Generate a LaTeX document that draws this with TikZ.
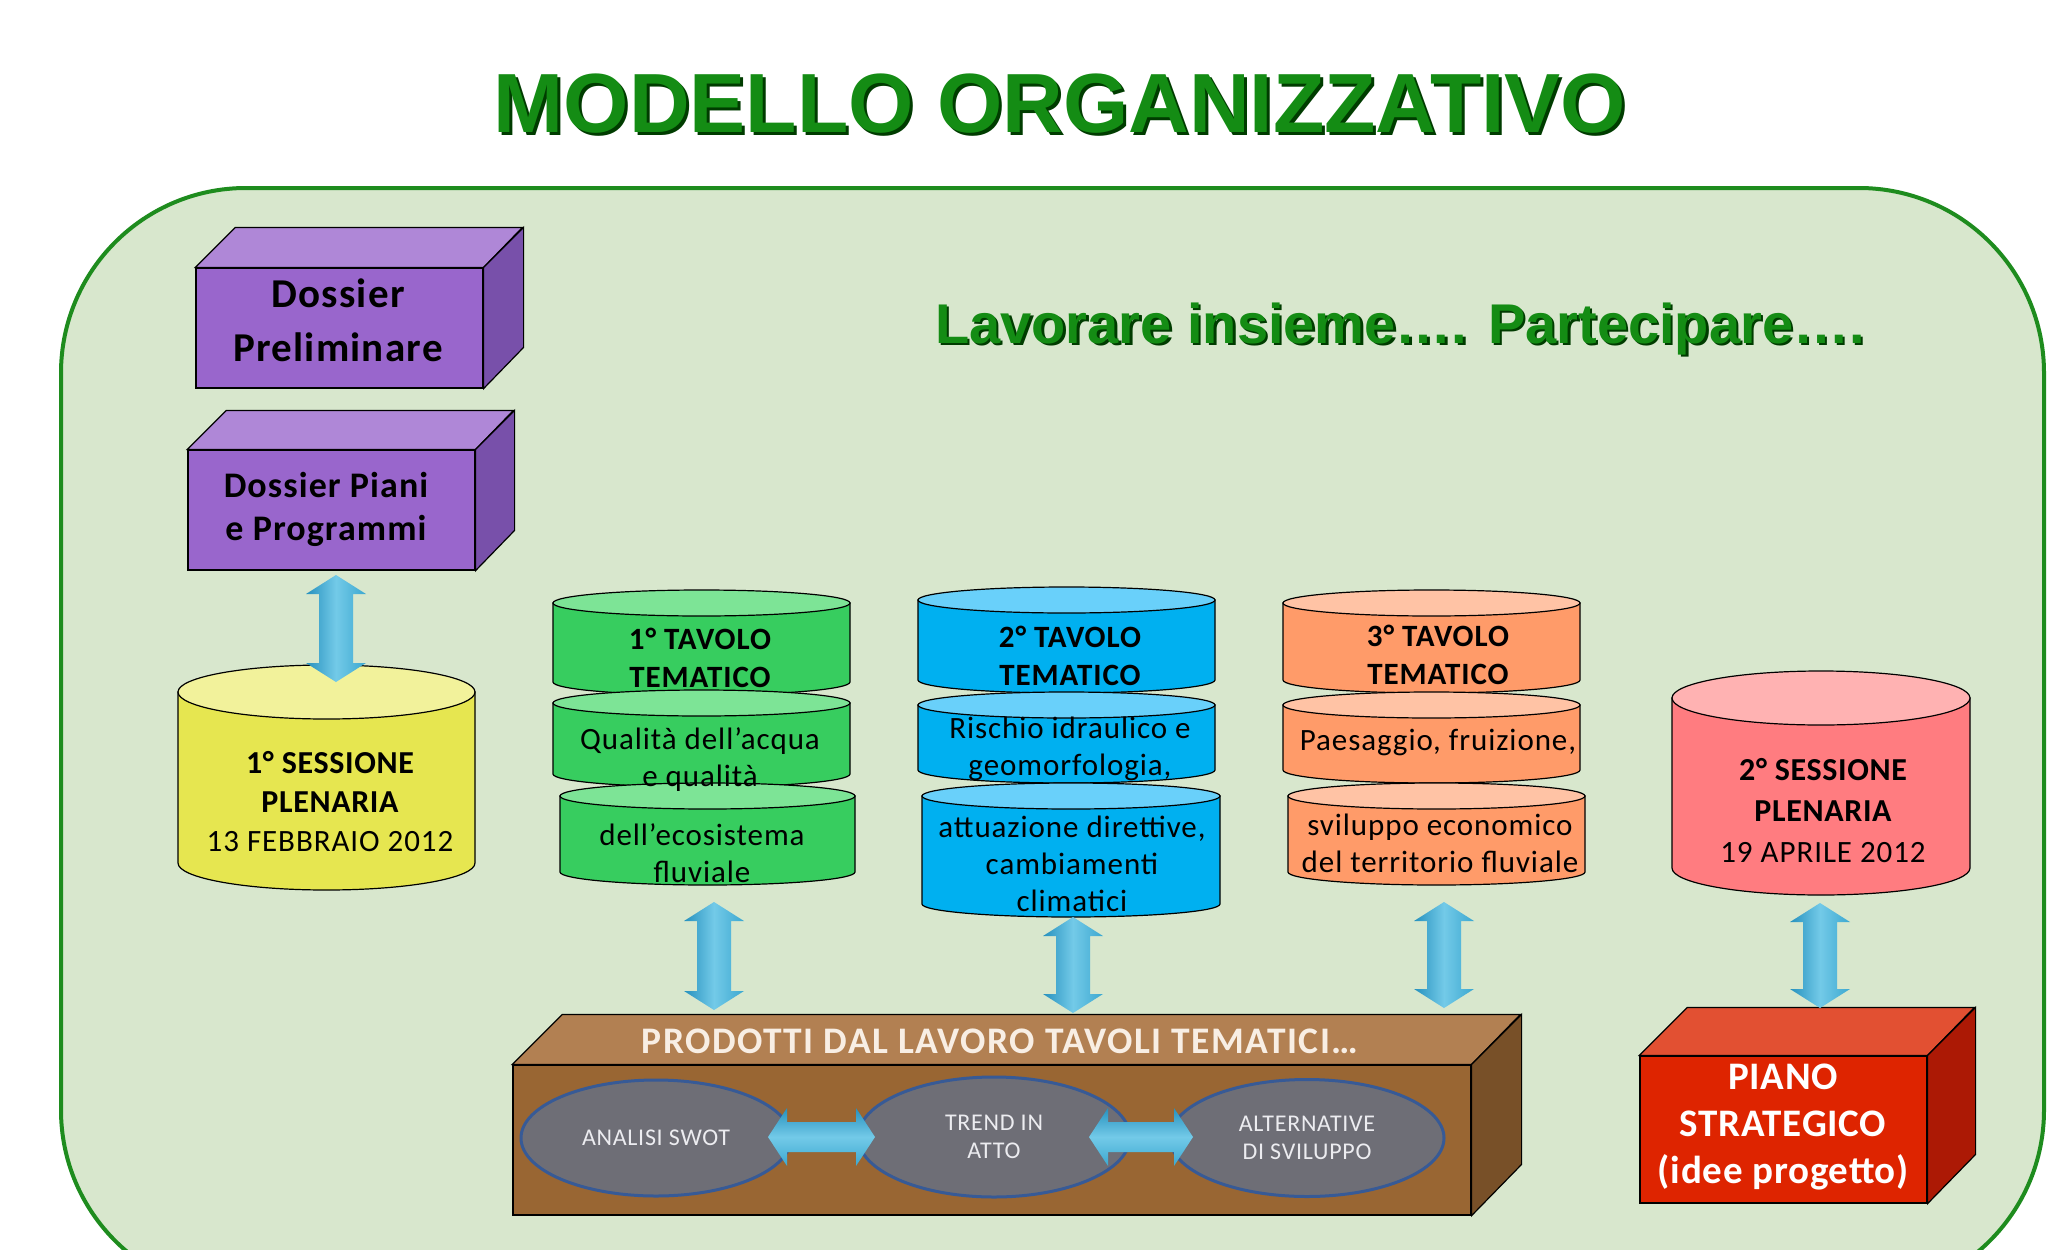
\documentclass[tikz,border=0pt]{standalone}
\usepackage{fontspec}
\setmainfont{Carlito}
\newfontfamily\libs{Liberation Sans}
\newfontfamily\cbA{Carlito}[LetterSpace=3]
\newfontfamily\cbB{Carlito}[LetterSpace=2]
\newfontfamily\cbC{Carlito}[LetterSpace=4]
\newfontfamily\crA{Carlito}[LetterSpace=3]
\usetikzlibrary{shapes.geometric}

\definecolor{bgfill}{RGB}{216,231,205}
\definecolor{bgline}{RGB}{30,140,30}
\definecolor{titleG}{RGB}{20,140,20}
\definecolor{titleSh}{RGB}{0,60,0}
\definecolor{purF}{RGB}{153,102,204}
\definecolor{purT}{RGB}{175,135,215}
\definecolor{purS}{RGB}{120,80,170}
\definecolor{yelB}{RGB}{230,230,80}
\definecolor{yelT}{RGB}{242,242,155}
\definecolor{grnB}{RGB}{55,205,95}
\definecolor{grnT}{RGB}{125,228,150}
\definecolor{bluB}{RGB}{0,176,240}
\definecolor{bluT}{RGB}{105,208,250}
\definecolor{orB}{RGB}{255,155,105}
\definecolor{orT}{RGB}{255,195,165}
\definecolor{pinkB}{RGB}{255,124,128}
\definecolor{pinkT}{RGB}{255,178,178}
\definecolor{redF}{RGB}{222,36,0}
\definecolor{redT}{RGB}{226,80,50}
\definecolor{redS}{RGB}{172,25,5}
\definecolor{brF}{RGB}{153,102,51}
\definecolor{brT}{RGB}{178,128,82}
\definecolor{brS}{RGB}{120,80,40}
\definecolor{brTxt}{RGB}{248,238,228}
\definecolor{ellF}{RGB}{110,110,118}
\definecolor{ellD}{RGB}{55,90,150}
\definecolor{ellTxt}{RGB}{236,236,240}
\definecolor{arD}{RGB}{38,145,190}
\definecolor{arM}{RGB}{60,168,208}
\definecolor{arL}{RGB}{115,202,232}

% cylinder segment: name, x1, x2, ytop, ybot, ry, body, top
\newcommand\cylseg[8]{%
  \pgfmathsetmacro\cylC{(#2+#3)/2}%
  \pgfmathsetmacro\cylR{(#3-#2)/2}%
  \pgfmathsetmacro\cylKx{0.5523*\cylR}%
  \pgfmathsetmacro\cylKy{0.5523*#6}%
  \pgfmathsetmacro\cylTc{#4+#6}%
  \pgfmathsetmacro\cylBc{#5-#6}%
  \filldraw[edge, fill=#7] (#2,\cylTc) -- (#2,\cylBc)
     .. controls (#2,\cylBc+\cylKy) and (\cylC-\cylKx,#5) .. (\cylC,#5)
     .. controls (\cylC+\cylKx,#5) and (#3,\cylBc+\cylKy) .. (#3,\cylBc)
     -- (#3,\cylTc) -- cycle;
  \filldraw[edge, fill=#8] (\cylC,\cylTc) ellipse [x radius=\cylR, y radius=#6];
  \coordinate (#1) at (\cylC,{(#4+#5)/2});
}
% vertical double block arrow: cx, ytop, ybot
\newcommand\varrow[3]{%
  \shade[left color=arD, right color=arM, middle color=arL]
   (#1,#2) -- ++(30,19) -- ++(-13,0) -- (#1+17,#3-19) -- ++(13,0) -- (#1,#3)
   -- ++(-30,-19) -- ++(13,0) -- (#1-17,#2+19) -- ++(-13,0) -- cycle;
}
% horizontal double block arrow: cy, xleft, xright
\newcommand\harrow[3]{%
  \shade[top color=arD, bottom color=arM, middle color=arL]
   (#2,#1) -- ++(19,-29) -- ++(0,14) -- (#3-19,#1-15) -- ++(0,-14) -- (#3,#1)
   -- ++(-19,29) -- ++(0,-14) -- (#2+19,#1+15) -- ++(0,14) -- cycle;
}

\begin{document}
\begin{tikzpicture}[x=1pt,y=-1pt,
  edge/.style={draw=black, line width=1.2pt},
  txt/.style={inner sep=0pt, align=center, text=black},
  face/.style={edge, inner sep=0pt},
  elli/.style={ellipse, draw=ellD, line width=3pt, fill=ellF, inner sep=0pt,
     align=center, text=ellTxt, font=\crA\fontsize{24pt}{28pt}\selectfont},
  hdr/.style={txt, font=\cbA\bfseries\fontsize{31pt}{38pt}\selectfont},
  body/.style={txt, font=\crA\fontsize{31pt}{37pt}\selectfont},
]
\useasboundingbox (0,0) rectangle (2048,1250);
\fill[white] (0,0) rectangle (2048,1250);
\clip (0,0) rectangle (2048,1250);

% frame
\draw[line width=4pt, draw=bgline, fill=bgfill, rounded corners=185pt] (61,188) rectangle (2044,1295);

% title
\node[anchor=base, inner sep=0pt, text=titleSh, font=\libs\bfseries\fontsize{84pt}{90pt}\selectfont] (titlesh) at (1063,135) {MODELLO ORGANIZZATIVO};
\node[anchor=base, inner sep=0pt, text=titleG, font=\libs\bfseries\fontsize{84pt}{90pt}\selectfont] (title) at (1060,132) {MODELLO ORGANIZZATIVO};
\node[anchor=base, inner sep=0pt, text=titleSh, font=\libs\bfseries\fontsize{56pt}{60pt}\selectfont] (subsh) at (1402.5,345.5) {Lavorare insieme…. Partecipare….};
\node[anchor=base, inner sep=0pt, text=titleG, font=\libs\bfseries\fontsize{56pt}{60pt}\selectfont] (sub) at (1400,343) {Lavorare insieme…. Partecipare….};

% Dossier Preliminare
\node[face, fill=purF, minimum width=287pt, minimum height=120pt] (dprel) at (339.5,328) {};
\filldraw[edge, fill=purT] (dprel.north west) -- ++(40,-40) -- ++(287,0) -- (dprel.north east) -- cycle;
\filldraw[edge, fill=purS] (dprel.north east) -- ++(40,-40) -- ++(0,120) -- (dprel.south east) -- cycle;

% Dossier Piani e Programmi
\node[face, fill=purF, minimum width=287pt, minimum height=120pt] (dpiani) at (331.5,510) {};
\filldraw[edge, fill=purT] (dpiani.north west) -- ++(39,-39) -- ++(287,0) -- (dpiani.north east) -- cycle;
\filldraw[edge, fill=purS] (dpiani.north east) -- ++(39,-39) -- ++(0,120) -- (dpiani.south east) -- cycle;

% sessions
\cylseg{ses1}{178}{475}{665}{890}{27}{yelB}{yelT}
\cylseg{ses2}{1672}{1970}{671}{895}{27}{pinkB}{pinkT}

% tavolo 1
\cylseg{t1a}{553}{850}{590}{695}{13}{grnB}{grnT}
\cylseg{t1b}{553}{850}{690}{787}{13}{grnB}{grnT}
\cylseg{t1c}{560}{855}{783}{885}{13}{grnB}{grnT}
% tavolo 2
\cylseg{t2a}{918}{1215}{587}{693}{13}{bluB}{bluT}
\cylseg{t2b}{918}{1215}{692}{783}{13}{bluB}{bluT}
\cylseg{t2c}{922}{1220}{783}{917}{13}{bluB}{bluT}
% tavolo 3
\cylseg{t3a}{1283}{1580}{590}{693}{13}{orB}{orT}
\cylseg{t3b}{1283}{1580}{692}{783}{13}{orB}{orT}
\cylseg{t3c}{1288}{1585}{783}{885}{13}{orB}{orT}

% prodotti box
\node[face, fill=brF, minimum width=958pt, minimum height=150pt] (prod) at (992,1140) {};
\filldraw[edge, fill=brT] (prod.north west) -- ++(50,-50) -- ++(958,0) -- (prod.north east) -- cycle;
\filldraw[edge, fill=brS] (prod.north east) -- ++(50,-50) -- ++(0,150) -- (prod.south east) -- cycle;
\node[txt, text=brTxt, font=\cbC\bfseries\fontsize{37.5pt}{40pt}\selectfont] (prodt) at (1000,1041) {PRODOTTI DAL LAVORO TAVOLI TEMATICI…};

\node[elli, minimum width=270pt, minimum height=116pt] (swot) at (656,1138) {ANALISI SWOT};
\node[elli, minimum width=272pt, minimum height=120pt] (trend) at (994,1137) {TREND IN\\ATTO};
\node[elli, minimum width=274pt, minimum height=117pt] (alt) at (1307,1138) {ALTERNATIVE\\DI SVILUPPO};

% piano strategico
\node[face, fill=redF, minimum width=287pt, minimum height=147pt] (piano) at (1783.5,1129.5) {};
\filldraw[edge, fill=redT] (piano.north west) -- ++(48,-48) -- ++(287,0) -- (piano.north east) -- cycle;
\filldraw[edge, fill=redS] (piano.north east) -- ++(48,-48) -- ++(0,147) -- (piano.south east) -- cycle;

% arrows
\varrow{336}{575}{682}
\varrow{714}{902}{1010}
\varrow{1073}{917}{1013}
\varrow{1444}{902}{1008}
\varrow{1820}{903}{1008}
\harrow{1137}{768}{875}
\harrow{1137}{1089}{1193}

% texts
\node[txt, font=\cbA\bfseries\fontsize{41pt}{54pt}\selectfont] (dprelt) at (338,320) {Dossier\\Preliminare};
\node[txt, font=\cbA\bfseries\fontsize{36pt}{43pt}\selectfont] (dpianit) at (326,509) {Dossier Piani\\e Programmi};

\node[txt, font=\cbB\fontsize{32pt}{39pt}\selectfont] (ses1t) at (330,802)
  {\bfseries 1° SESSIONE\\\bfseries PLENARIA\\\crA\fontsize{31pt}{39pt}\selectfont 13 FEBBRAIO 2012};
\node[txt, font=\cbB\fontsize{32pt}{41pt}\selectfont] (ses2t) at (1823,811)
  {\bfseries 2° SESSIONE\\\bfseries PLENARIA\\\crA\fontsize{31pt}{41pt}\selectfont 19 APRILE 2012};

\node[hdr] (t1h) at (700,658) {1° TAVOLO\\TEMATICO};
\node[body] (t1m) at (700,760) {Qualità dell’acqua\\e qualità};
\node[body] (t1l) at (702,853) {dell’ecosistema\\fluviale};

\node[hdr] (t2h) at (1070,656) {2° TAVOLO\\TEMATICO};
\node[body] (t2m) at (1070,749) {Rischio idraulico e\\geomorfologia,};
\node[body] (t2l) at (1072,864) {attuazione direttive,\\cambiamenti\\climatici};

\node[hdr] (t3h) at (1438,655) {3° TAVOLO\\TEMATICO};
\node[body] (t3m) at (1438,742) {Paesaggio, fruizione,};
\node[body] (t3l) at (1440,843) {sviluppo economico\\del territorio fluviale};

\node[txt, text=white, font=\cbB\bfseries\fontsize{39pt}{47pt}\selectfont] (pianot) at (1783,1127) {PIANO\\STRATEGICO\\(idee progetto)};
\end{tikzpicture}
\end{document}
